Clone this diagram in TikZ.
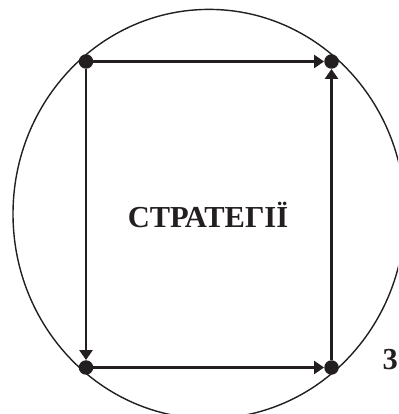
\documentclass[tikz,border=0pt]{standalone}
\usepackage{fontspec}
\setmainfont{Liberation Serif}[BoldFont={Liberation Serif Bold}]
\usepackage{tikz}
\usetikzlibrary{arrows.meta,positioning}
\definecolor{inkblack}{HTML}{231F20}
\tikzset{
  corner/.style={circle,fill=inkblack,inner sep=0pt,minimum size=14.5pt},
  flow/.style={inkblack,line width=2.6pt,-{Triangle[length=10pt,width=13pt]}},
  rim/.style={inkblack,line width=1.4pt},
  bigtext/.style={inkblack,font=\fontsize{30.5}{34}\selectfont\bfseries}
}
\begin{document}
\begin{tikzpicture}[x=1pt,y=1pt]
\useasboundingbox (0,0) rectangle (398,414);
\clip (0,0) rectangle (398,414);
\draw[rim] (209,200) ellipse [x radius=196, y radius=204.6];
\node[corner] (tl) at (86,352.5) {};
\node[corner] (tr) at (331.5,352.5) {};
\node[corner] (bl) at (86,46.5) {};
\node[corner] (br) at (331.5,46.5) {};
\node[bigtext] (strat) at (208,199) {СТРАТЕГІЇ};
\node[bigtext,anchor=west] (num) at (379,54) {3};
\draw[flow] (tl) -- (tr);
\draw[flow] (br) -- (tr);
\draw[flow] (tl) -- (bl);
\draw[flow] (bl) -- (br);
\end{tikzpicture}
\end{document}
